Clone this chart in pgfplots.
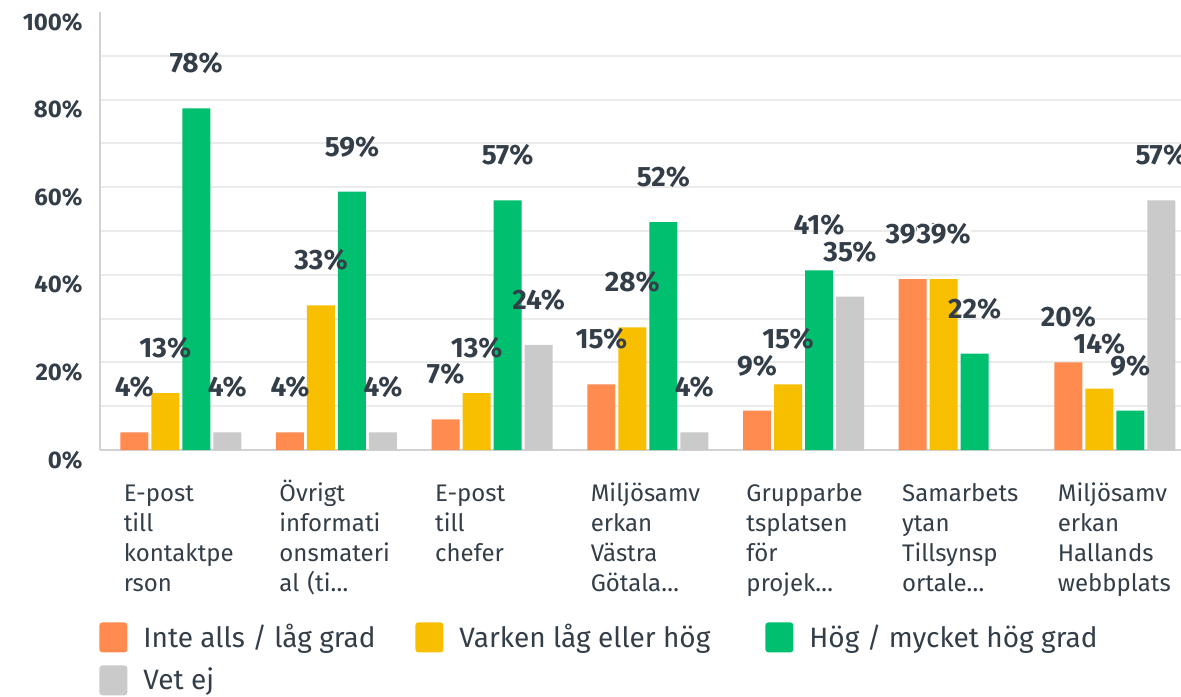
\documentclass[border=0pt]{standalone}
\usepackage{fontspec}
\setmainfont{Fira Sans}
\usepackage{pgfplots}
\pgfplotsset{compat=1.18}
\definecolor{cO}{HTML}{FF8B4F}
\definecolor{cY}{HTML}{F8BE00}
\definecolor{cG}{HTML}{00BF6F}
\definecolor{cK}{HTML}{CACACA}
\definecolor{txt}{HTML}{333E48}
\definecolor{gridc}{HTML}{EBEBEB}
\definecolor{axc}{HTML}{D2D2D2}
\newcommand{\st}{\rule{0pt}{11.5pt}}
\begin{document}
\begin{tikzpicture}
\useasboundingbox (-50pt,-123pt) rectangle (540.5pt,225pt);
\begin{axis}[
  at={(0,0)}, anchor=south west,
  scale only axis, width=540.5pt, height=219pt,
  xmin=-0.519, xmax=6.425, ymin=0, ymax=100,
  axis x line*=bottom, axis y line*=left,
  axis line style={draw=axc, line width=1pt},
  xtick={0,...,6},
  xticklabels={{\st E-post\\till\\kontaktpe\\rson},{\st Övrigt\\informati\\onsmateri\\al (ti\ldots},{\st E-post\\till\\chefer},{\st Miljösamv\\erkan\\Västra\\Götala\ldots},{\st Grupparbe\\tsplatsen\\för\\projek\ldots},{\st Samarbets\\ytan\\Tillsynsp\\ortale\ldots},{\st Miljösamv\\erkan\\Hallands\\webbplats}},
  ytick={0,20,...,100},
  minor ytick={10,20,...,90},
  yminorgrids, ymajorgrids=false,
  minor grid style={draw=gridc, line width=1pt},
  major tick length=0pt, minor tick length=0pt,
  /pgf/number format/assume math mode=true,
  yticklabel={\pgfmathprintnumber{\tick}\%},
  yticklabel style={font=\fontsize{12}{13}\selectfont\bfseries, text=txt, anchor=east, inner sep=0pt, xshift=-8.5pt, yshift=-5pt},
  xticklabel style={font=\fontsize{12}{15}\selectfont, text=txt, text width=57pt, align=left, anchor=north, inner sep=0pt, yshift=-14pt},
  ybar, bar width=14pt,
  every node near coord/.append style={font=\fontsize{14}{15}\selectfont\bfseries, text=txt, inner sep=0pt, yshift=17pt},
  nodes near coords={\pgfmathprintnumber{\pgfplotspointmeta}\%},
  legend cell align=left,
  legend columns=3,
  legend image code/.code={\fill[rounded corners=1.5pt] (0pt,-7.5pt) rectangle (14pt,7.5pt);},
  legend style={at={(axis description cs:0,0)}, anchor=north west, xshift=-0.5pt, yshift=-86pt,
    draw=none, fill=none, inner sep=0pt, row sep=6.5pt,
    font=\fontsize{14}{16}\selectfont, text=txt,
    nodes={inner sep=0pt},
    /tikz/every odd column/.append style={column sep=8pt}},
]
% bars
\addplot[fill=cO, draw=none, bar shift=-23.25pt, nodes near coords=] coordinates {(0,4)(1,4)(2,7)(3,15)(4,9)(5,39)(6,20)};
\addlegendentry{\makebox[136pt][l]{Inte alls / låg grad}}
\addplot[fill=cY, draw=none, bar shift=-7.75pt, nodes near coords=] coordinates {(0,13)(1,33)(2,13)(3,28)(4,15)(5,39)(6,14)};
\addlegendentry{\makebox[153pt][l]{Varken låg eller hög}}
\addplot[fill=cG, draw=none, bar shift=7.75pt, nodes near coords=] coordinates {(0,78)(1,59)(2,57)(3,52)(4,41)(5,22)(6,9)};
\addlegendentry{Hög / mycket hög grad}
\addplot[fill=cK, draw=none, bar shift=23.25pt, nodes near coords=] coordinates {(0,4)(1,4)(2,24)(3,4)(4,35)(6,57)};
\addlegendentry{Vet ej}
% value labels
\addplot[draw=none, fill=none, bar shift=-23.25pt, forget plot] coordinates {(0,4)(1,4)(2,7)(3,15)(4,9)(5,39)(6,20)};
\addplot[draw=none, fill=none, bar shift=-7.75pt, forget plot] coordinates {(0,13)(1,33)(2,13)(3,28)(4,15)(6,14)};
\addplot[draw=none, fill=none, bar shift=-7.75pt, forget plot, every node near coord/.append style={fill=white}] coordinates {(5,39)};
\addplot[draw=none, fill=none, bar shift=7.75pt, forget plot] coordinates {(0,78)(1,59)(2,57)(3,52)(4,41)(5,22)(6,9)};
\addplot[draw=none, fill=none, bar shift=23.25pt, forget plot] coordinates {(0,4)(1,4)(2,24)(3,4)(4,35)(6,57)};
\end{axis}
\end{tikzpicture}
\end{document}
